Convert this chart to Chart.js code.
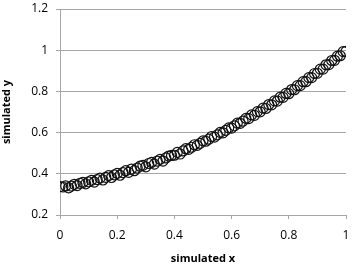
<!DOCTYPE html>
<html>
<head>
<meta charset="utf-8">
<script src="https://cdn.jsdelivr.net/npm/chart.js@4"></script>
<style>
  html, body { margin: 0; padding: 0; background: #fff; }
  #wrap { width: 354px; height: 268px; }
</style>
</head>
<body>
<div id="wrap"><canvas id="mychart"></canvas></div>
<script>

// simulated data
const xValues = [
  0, 0.01, 0.02, 0.03, 0.04, 0.05, 0.06, 0.07, 0.08, 0.09,
  0.10, 0.11, 0.12, 0.13, 0.14, 0.15, 0.16, 0.17, 0.18, 0.19,
  0.20, 0.21, 0.22, 0.23, 0.24, 0.25, 0.26, 0.27, 0.28, 0.29,
  0.30, 0.31, 0.32, 0.33, 0.34, 0.35, 0.36, 0.37, 0.38, 0.39,
  0.40, 0.41, 0.42, 0.43, 0.44, 0.45, 0.46, 0.47, 0.48, 0.49,
  0.50, 0.51, 0.52, 0.53, 0.54, 0.55, 0.56, 0.57, 0.58, 0.59,
  0.60, 0.61, 0.62, 0.63, 0.64, 0.65, 0.66, 0.67, 0.68, 0.69,
  0.70, 0.71, 0.72, 0.73, 0.74, 0.75, 0.76, 0.77, 0.78, 0.79,
  0.80, 0.81, 0.82, 0.83, 0.84, 0.85, 0.86, 0.87, 0.88, 0.89,
  0.90, 0.91, 0.92, 0.93, 0.94, 0.95, 0.96, 0.97, 0.98, 0.99,
  1.00
];
const yValues = [
  0.338, 0.336, 0.341, 0.332, 0.340, 0.349, 0.343, 0.354, 0.358, 0.351,
  0.361, 0.368, 0.360, 0.372, 0.379, 0.370, 0.383, 0.391, 0.382, 0.395,
  0.402, 0.393, 0.406, 0.415, 0.407, 0.423, 0.415, 0.428, 0.437, 0.441,
  0.434, 0.450, 0.455, 0.447, 0.462, 0.470, 0.462, 0.477, 0.486, 0.489,
  0.490, 0.504, 0.496, 0.511, 0.522, 0.519, 0.529, 0.541, 0.538, 0.548,
  0.560, 0.558, 0.568, 0.581, 0.578, 0.589, 0.601, 0.599, 0.611, 0.623,
  0.622, 0.633, 0.646, 0.645, 0.656, 0.669, 0.668, 0.686, 0.684, 0.702,
  0.701, 0.719, 0.717, 0.736, 0.735, 0.754, 0.753, 0.772, 0.771, 0.790,
  0.789, 0.809, 0.808, 0.828, 0.828, 0.847, 0.847, 0.867, 0.867, 0.887,
  0.888, 0.908, 0.908, 0.929, 0.930, 0.950, 0.951, 0.971, 0.973, 0.993,
  0.994
];

const xTitle = 'simulated x';
const yTitle = 'simulated y';

const points = xValues.map((x, i) => ({ x: x, y: yValues[i] }));

Chart.defaults.font.family = "'Open Sans', 'Liberation Sans', sans-serif";
Chart.defaults.color = '#000';

const fmt = (value) => String(Math.round(value * 10) / 10);

const ctx = document.getElementById('mychart').getContext('2d');

const scatterChart = new Chart(ctx,
{
    type : 'scatter',
    data :
    {
        datasets :
        [{
            data : points,
            pointStyle : 'circle',
            pointRadius : 5,
            pointHoverRadius : 5,
            pointBorderWidth : 1.2,
            borderColor : '#111',
            backgroundColor : 'rgba(0,0,0,0)',
        }]
    },
    options :
    {
        responsive : true,
        maintainAspectRatio : false,
        animation : false,
        layout :
        {
            padding :
            {
                left : 0,
                right : 8,
                top : 9,
                bottom : 0,
            }
        },
        scales :
        {
            x :
            {
                type : 'linear',
                min : 0,
                max : 1,
                ticks :
                {
                    stepSize : 0.2,
                    padding : 9,
                    font : { size : 12 },
                    maxRotation : 0,
                    callback : fmt,
                },
                grid :
                {
                    drawOnChartArea : false,
                    drawTicks : true,
                    tickLength : 4,
                    color : '#a6a6a6',
                },
                border : { color : '#a6a6a6' },
                title :
                {
                    display : true,
                    text : xTitle,
                    font : { size : 11, weight : 'bold' },
                    padding : { top : 6, bottom : 3 },
                },
                afterFit : (scale) => { scale.height = 53; scale.paddingRight = 0; scale.paddingLeft = 0; },
            },
            y :
            {
                type : 'linear',
                min : 0.2,
                max : 1.2,
                ticks :
                {
                    stepSize : 0.2,
                    padding : 8,
                    font : { size : 12 },
                    callback : fmt,
                },
                grid :
                {
                    drawTicks : true,
                    tickLength : 4,
                    color : '#a6a6a6',
                },
                border : { color : '#a6a6a6' },
                title :
                {
                    display : true,
                    text : yTitle,
                    font : { size : 11, weight : 'bold' },
                    padding : { top : 0, bottom : 4 },
                },
                afterFit : (scale) => { scale.width = 60; scale.paddingTop = 0; scale.paddingBottom = 0; },
            },
        },
        plugins :
        {
            legend : { display : false },
            tooltip : { enabled : false },
        },
    }
});

</script>
</body>
</html>
